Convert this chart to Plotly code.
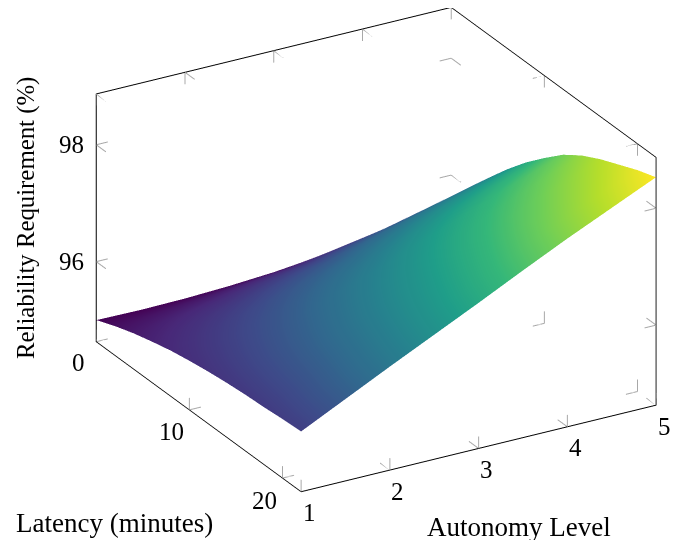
import plotly.graph_objects as go

autonomy = [1, 1.5, 2, 2.5, 3, 3.5, 4, 4.5, 5]
latency = [0, 2, 4, 6, 8, 10, 12, 14, 16, 18, 20, 22]
# rows follow latency, columns follow autonomy
reliability = [
    [95.00, 94.99, 95.00, 95.03, 95.08, 95.16, 95.27, 95.42, 95.60],
    [95.13, 95.18, 95.24, 95.32, 95.40, 95.53, 95.66, 95.84, 96.02],
    [95.24, 95.35, 95.45, 95.58, 95.70, 95.87, 96.04, 96.23, 96.42],
    [95.33, 95.49, 95.64, 95.81, 95.98, 96.19, 96.40, 96.60, 96.80],
    [95.41, 95.61, 95.81, 96.02, 96.22, 96.46, 96.70, 96.93, 97.15],
    [95.47, 95.71, 95.95, 96.19, 96.43, 96.70, 96.97, 97.22, 97.46],
    [95.52, 95.79, 96.06, 96.34, 96.61, 96.91, 97.20, 97.48, 97.75],
    [95.56, 95.86, 96.15, 96.45, 96.75, 97.07, 97.38, 97.68, 97.97],
    [95.59, 95.91, 96.23, 96.55, 96.86, 97.20, 97.53, 97.84, 98.14],
    [95.61, 95.95, 96.29, 96.63, 96.96, 97.31, 97.66, 97.97, 98.28],
    [95.64, 96.00, 96.35, 96.70, 97.05, 97.41, 97.77, 98.10, 98.42],
    [95.66, 96.03, 96.40, 96.76, 97.12, 97.49, 97.85, 98.19, 98.53],
]
autonomy_ticks = [1, 2, 3, 4, 5]
latency_ticks = [0, 10, 20]
reliability_ticks = [96, 98]
x_title = "Autonomy Level"
y_title = "Latency (minutes)"
z_title = "Reliability Requirement (%)"

FONT = "Liberation Serif"
X_RANGE = (1, 5)
Y_RANGE = (0, 22)
Z_RANGE = (94.63, 98.87)
TICK_DX, TICK_DY, TICK_DZ = 0.13, 1.04, 0.205


def axis(rng):
    return dict(
        range=rng, tickmode="array", tickvals=[], showticklabels=False, ticks="",
        showgrid=False, zeroline=False, showbackground=False, showspikes=False,
        showline=True, linecolor="black", linewidth=2, mirror="all",
        title=dict(text=""),
    )


tx, ty, tz = [], [], []


def seg(a, b):
    tx.extend([a[0], b[0], None])
    ty.extend([a[1], b[1], None])
    tz.extend([a[2], b[2], None])


xl, xh = X_RANGE
yl, yh = Y_RANGE
zl, zh = Z_RANGE
for v in autonomy_ticks:
    for y0, z0 in [(yl, zh), (yh, zl), (yl, zl)]:
        sy = 1 if y0 == yl else -1
        sz = 1 if z0 == zl else -1
        seg((v, y0, z0), (v, y0 + sy * TICK_DY, z0))
        seg((v, y0, z0), (v, y0, z0 + sz * TICK_DZ))
for v in latency_ticks:
    for x0, z0 in [(xl, zl), (xh, zh), (xh, zl)]:
        sx = 1 if x0 == xl else -1
        sz = 1 if z0 == zl else -1
        seg((x0, v, z0), (x0 + sx * TICK_DX, v, z0))
        seg((x0, v, z0), (x0, v, z0 + sz * TICK_DZ))
for v in reliability_ticks:
    for x0, y0 in [(xl, yl), (xh, yl), (xh, yh)]:
        sx = 1 if x0 == xl else -1
        sy = 1 if y0 == yl else -1
        seg((x0, y0, v), (x0 + sx * TICK_DX, y0, v))
        seg((x0, y0, v), (x0, y0 + sy * TICK_DY, v))

fig = go.Figure()
fig.add_trace(go.Surface(
    x=autonomy, y=latency, z=reliability, colorscale="Viridis", showscale=False,
    lighting=dict(ambient=1, diffuse=0, specular=0, roughness=1, fresnel=0),
    hoverinfo="skip",
))
fig.add_trace(go.Scatter3d(
    x=tx, y=ty, z=tz, mode="lines", line=dict(color="#a8a8a8", width=2),
    hoverinfo="skip", showlegend=False, connectgaps=False,
))

tick_font = dict(family=FONT, size=25, color="black")
labels = []
for v in autonomy_ticks:
    labels.append(dict(x=v, y=yh, z=zl, text=str(v), xshift=8, yshift=-21,
                       showarrow=False, font=tick_font))
for v in latency_ticks:
    labels.append(dict(x=xl, y=v, z=zl, text=str(v), xshift=-18, yshift=-22 if v else -21,
                       showarrow=False, font=tick_font))
for v in reliability_ticks:
    labels.append(dict(x=xl, y=yl, z=v, text=str(v), xshift=-25, yshift=0,
                       showarrow=False, font=tick_font))

D = 2.0
ASPECT = 1.518
CENTER = dict(x=-0.103, y=0.008, z=-0.0955)
title_common = dict(xref="paper", yref="paper", xanchor="center", yanchor="middle",
                    showarrow=False)
fig.update_layout(
    width=686, height=540, margin=dict(l=0, r=0, t=0, b=0),
    paper_bgcolor="white", showlegend=False,
    scene=dict(
        domain=dict(x=[0, 1], y=[0, 1]),
        xaxis=axis(list(X_RANGE)),
        yaxis=axis(list(Y_RANGE)[::-1]),
        zaxis=axis(list(Z_RANGE)),
        aspectmode="manual", aspectratio=dict(x=ASPECT, y=ASPECT, z=0.667 * ASPECT),
        camera=dict(
            projection=dict(type="orthographic"),
            eye=dict(x=CENTER["x"] - 0.453 * D, y=CENTER["y"] - 0.785 * D, z=CENTER["z"] + 0.4226 * D),
            up=dict(x=0, y=0, z=1), center=CENTER,
        ),
        annotations=labels,
    ),
    annotations=[
        dict(text=y_title, x=106 / 686, y=1 - 515 / 540,
             font=dict(family=FONT, size=27, color="black"), **title_common),
        dict(text=x_title, x=511 / 686, y=1 - 519 / 540,
             font=dict(family=FONT, size=27, color="black"), **title_common),
        dict(text=z_title, x=18 / 686, y=1 - 210 / 540, textangle=-90,
             font=dict(family=FONT, size=24.8, color="black"), **title_common),
    ],
)
fig.write_html("out.html")
